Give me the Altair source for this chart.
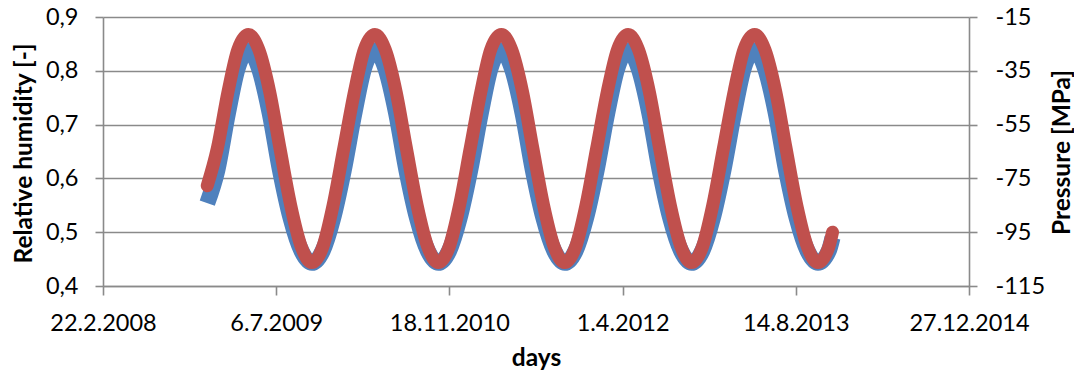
import altair as alt
import pandas as pd

# x values: first and last sample plus monthly samples (17th of each month)
dates = (["2008-12-19"]
         + [f"{y}-{m:02d}-17" for y in range(2009, 2014) for m in range(1, 13)][:59]
         + ["2013-11-28"])

# Relative humidity [-] (blue, left axis)
rh = [0.554,
      0.615, 0.722, 0.805, 0.838, 0.805, 0.722, 0.615, 0.525, 0.465, 0.443, 0.465, 0.525,
      0.615, 0.722, 0.805, 0.838, 0.805, 0.722, 0.615, 0.525, 0.465, 0.443, 0.465, 0.525,
      0.615, 0.722, 0.805, 0.838, 0.805, 0.722, 0.615, 0.525, 0.465, 0.443, 0.465, 0.525,
      0.615, 0.722, 0.805, 0.838, 0.805, 0.722, 0.615, 0.525, 0.465, 0.443, 0.465, 0.525,
      0.615, 0.722, 0.805, 0.838, 0.805, 0.722, 0.615, 0.525, 0.465, 0.443, 0.465,
      0.490]

# Pressure [MPa] (red, right axis)
pressure = [-77.7,
            -63.9, -42.7, -27.2, -21.5, -27.2, -42.7, -63.9, -85.1, -100.6, -106.3, -100.6, -85.1,
            -63.9, -42.7, -27.2, -21.5, -27.2, -42.7, -63.9, -85.1, -100.6, -106.3, -100.6, -85.1,
            -63.9, -42.7, -27.2, -21.5, -27.2, -42.7, -63.9, -85.1, -100.6, -106.3, -100.6, -85.1,
            -63.9, -42.7, -27.2, -21.5, -27.2, -42.7, -63.9, -85.1, -100.6, -106.3, -100.6, -85.1,
            -63.9, -42.7, -27.2, -21.5, -27.2, -42.7, -63.9, -85.1, -100.6, -106.3, -100.6,
            -95.0]

x_ticks = [(2008, 2, 22), (2009, 7, 6), (2010, 11, 18), (2012, 4, 1), (2013, 8, 14), (2014, 12, 27)]
rh_ticks = [0.4, 0.5, 0.6, 0.7, 0.8, 0.9]
p_ticks = [-115, -95, -75, -55, -35, -15]

df = pd.DataFrame({"date": dates, "rh": rh, "pressure": pressure})

FONT = "Lato"
GRAY = "#8a8a8a"

def dt(t):
    return alt.DateTime(year=t[0], month=t[1], date=t[2], utc=True)

x_enc = alt.X(
    "date:T",
    scale=alt.Scale(type="utc", domain=[dt(x_ticks[0]), dt(x_ticks[-1])], nice=False),
    axis=alt.Axis(
        values=[dt(t) for t in x_ticks],
        labelExpr="utcFormat(datum.value, '%-d.%-m.%Y')",
        title="days",
        grid=False,
        tickSize=9,
        labelPadding=35,
        labelBaseline="alphabetic",
        labelFlush=False,
        labelOverlap=False,
        labelBound=False,
        titleY=79,
        titleBaseline="alphabetic",
    ),
)

blue = alt.Chart(df).mark_line(
    color="#4F81BD", strokeWidth=16, strokeCap="butt", interpolate="monotone"
).encode(
    x=x_enc,
    y=alt.Y(
        "rh:Q",
        scale=alt.Scale(domain=[0.4, 0.9], nice=False, zero=False),
        axis=alt.Axis(
            values=rh_ticks,
            labelExpr="replace(format(datum.value, '.1f'), '.', ',')",
            title="Relative humidity [-]",
            grid=True,
            tickSize=8,
            labelPadding=17,
            labelFlush=False,
            labelOverlap=False,
            titleAngle=270,
            titleX=-78.5,
            titleY=136,
            titleBaseline="middle",
            titleAlign="center",
        ),
    ),
)

red = alt.Chart(df).mark_line(
    color="#C0504D", strokeWidth=13, strokeCap="round", interpolate="monotone"
).encode(
    x=x_enc,
    y=alt.Y(
        "pressure:Q",
        scale=alt.Scale(domain=[-115, -15], nice=False, zero=False),
        axis=alt.Axis(
            orient="right",
            values=p_ticks,
            labelExpr="'' + datum.value",
            title="Pressure [MPa]",
            grid=False,
            tickSize=8,
            labelPadding=18,
            labelAlign="left",
            labelFlush=False,
            labelOverlap=False,
            titleAngle=270,
            titleX=93,
            titleY=135,
            titleBaseline="middle",
            titleAlign="center",
        ),
    ),
)

chart = (
    alt.layer(blue, red)
    .resolve_scale(y="independent")
    .properties(
        width=866,
        height=269,
        autosize=alt.AutoSizeParams(type="none"),
        padding={"left": 95, "top": 9, "right": 105, "bottom": 85},
        background="white",
    )
    .configure_view(stroke=None)
    .configure_axis(
        labelFont=FONT,
        labelFontSize=23.5,
        labelColor="#000000",
        titleFont=FONT,
        titleFontSize=24.5,
        titleFontWeight="bold",
        titleColor="#000000",
        domainColor=GRAY,
        domainWidth=1.6,
        tickColor=GRAY,
        tickWidth=1.6,
        gridColor=GRAY,
        gridWidth=1.6,
    )
)

chart.save("out.html", embed_options={"renderer": "svg", "actions": False})
